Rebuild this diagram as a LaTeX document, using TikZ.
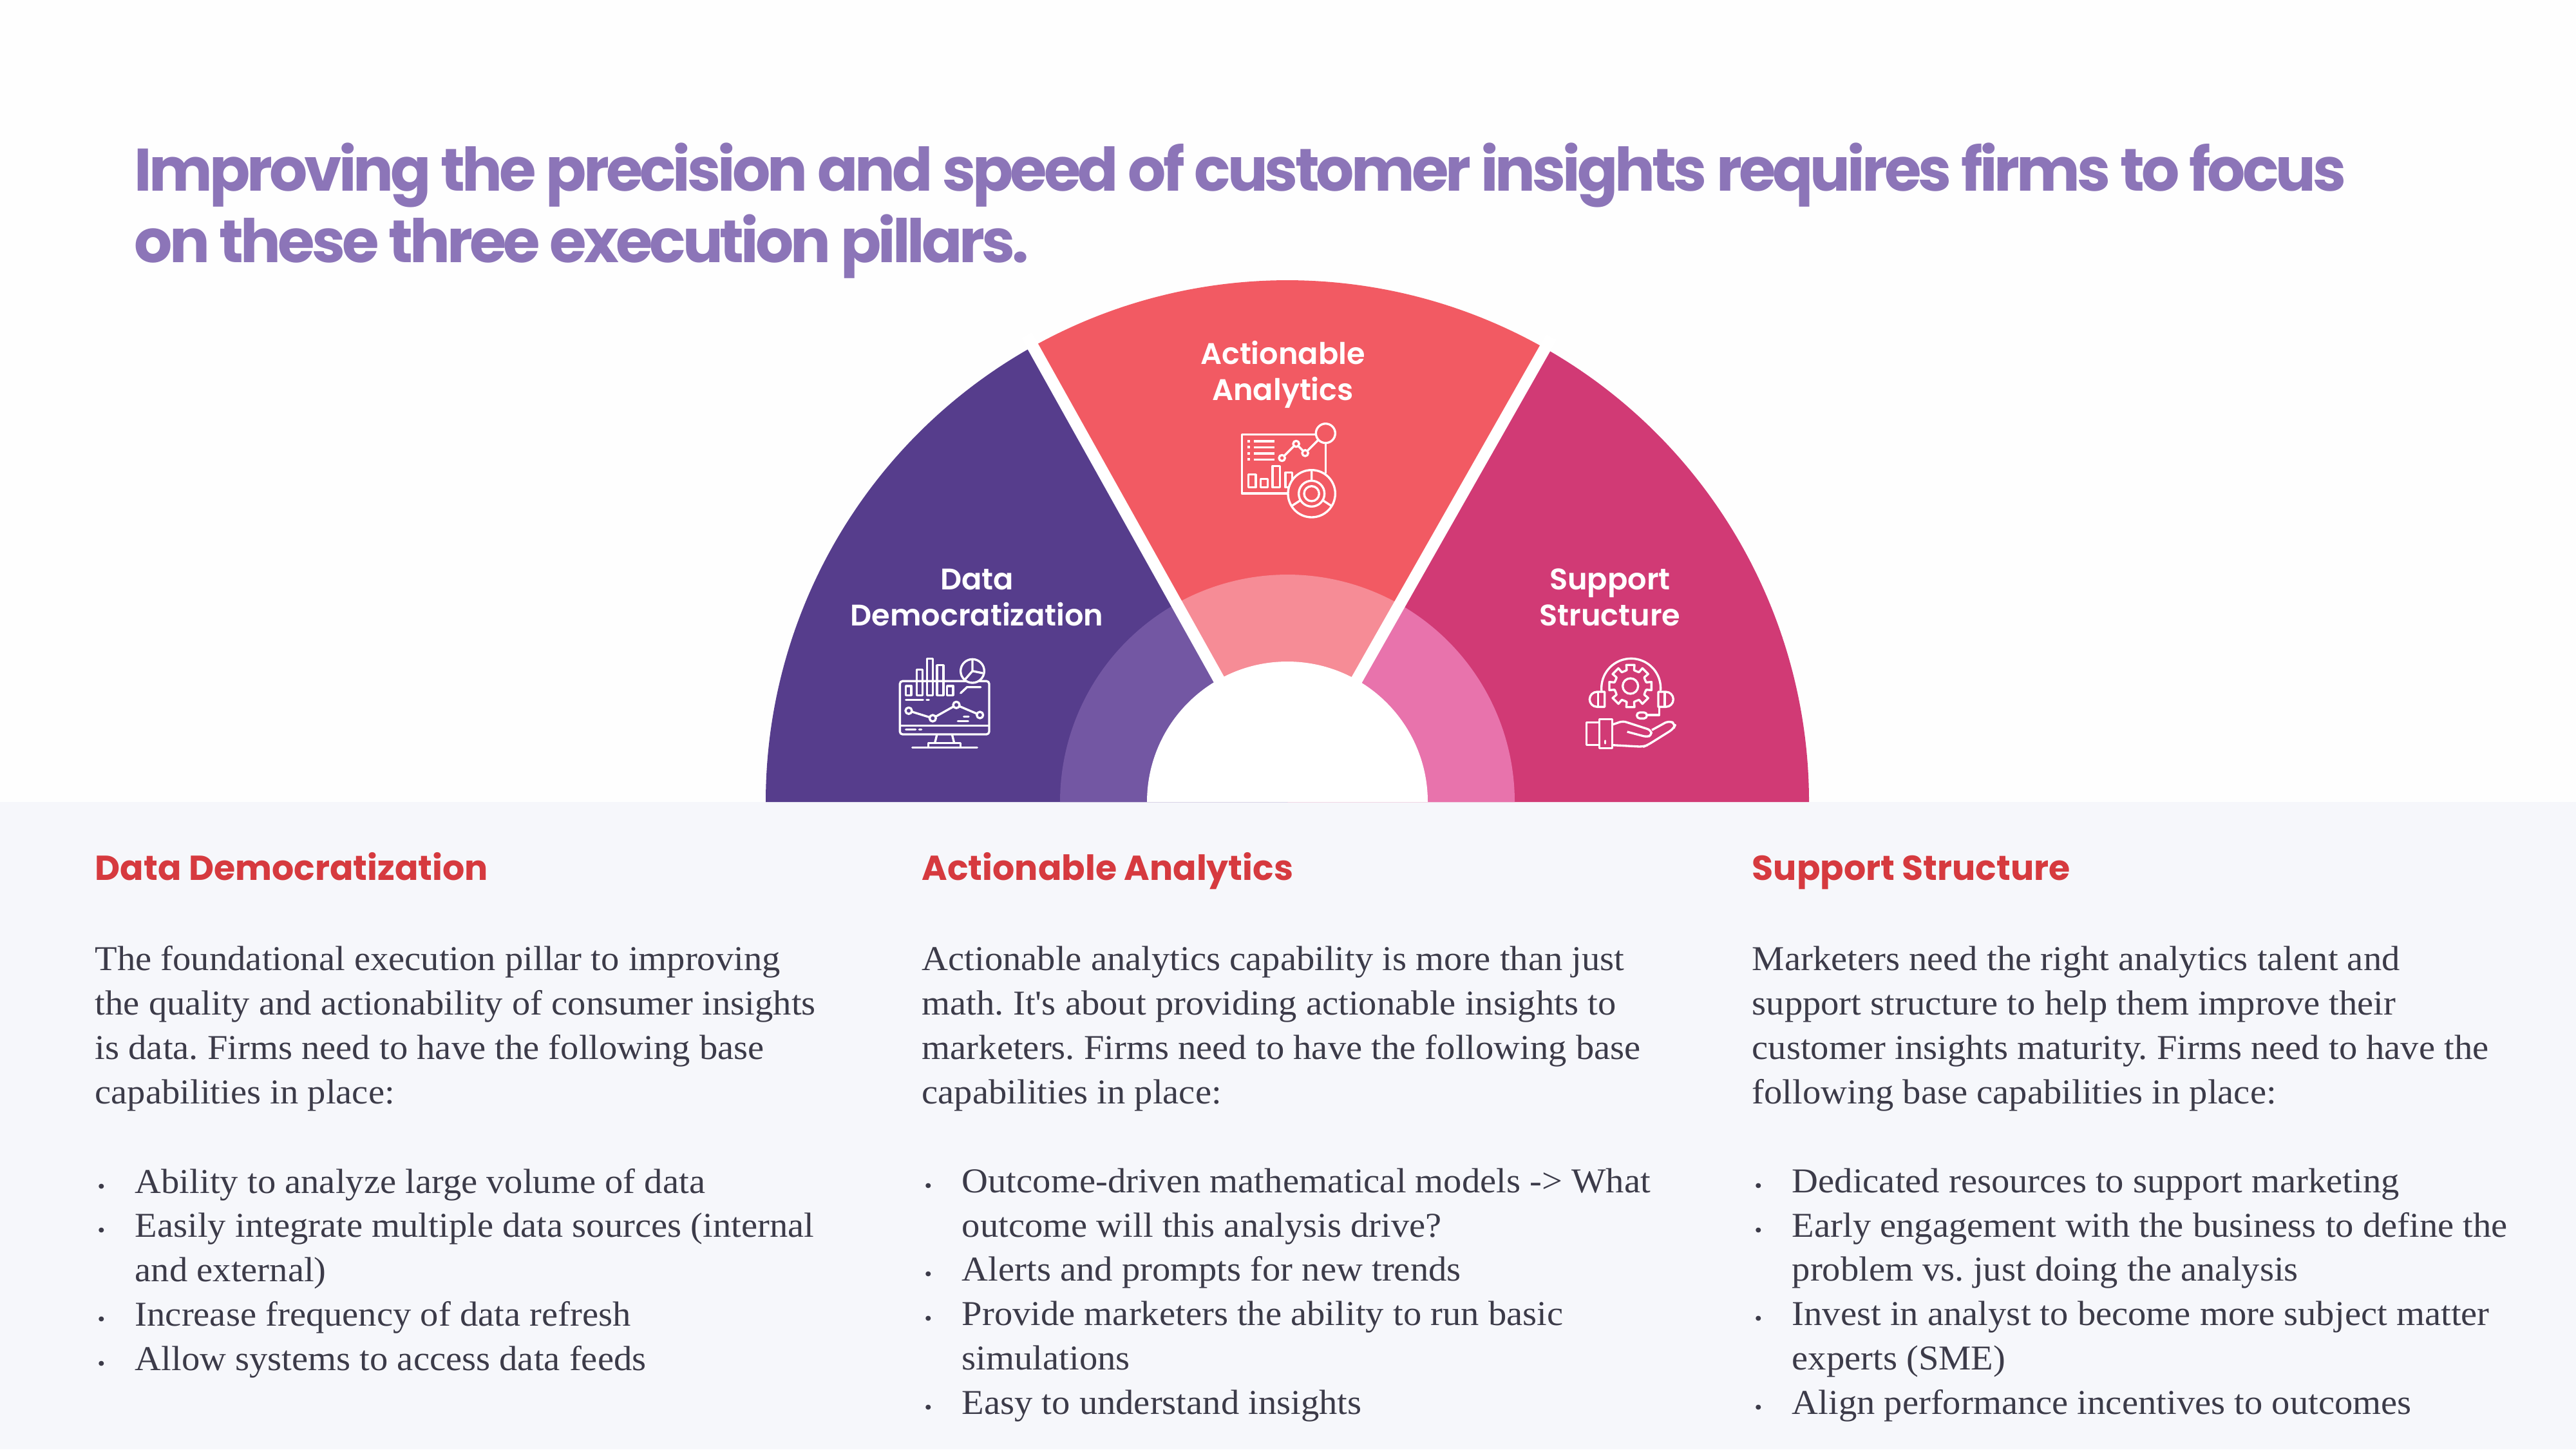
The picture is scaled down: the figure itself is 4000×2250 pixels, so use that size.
\documentclass[tikz,border=0pt]{standalone}
\usepackage{fontspec}
\usetikzlibrary{calc,positioning}
\setmainfont{Liberation Serif}[Ligatures=TeXOff,FakeStretch=1.045]
\newfontfamily\popbold{Poppins}[UprightFont=*-Bold,LetterSpace=-5.3]
\newfontfamily\pophead{Poppins}[UprightFont=*-Bold]
\newfontfamily\popsemi{Poppins}[UprightFont=*-SemiBold]
\definecolor{pillarPurple}{HTML}{563D8C}
\definecolor{pillarRed}{HTML}{F25A63}
\definecolor{pillarPink}{HTML}{D13A75}
\definecolor{ringPurple}{HTML}{7357A3}
\definecolor{ringRed}{HTML}{F68C96}
\definecolor{ringPink}{HTML}{E873AC}
\definecolor{panelGrey}{HTML}{F6F7FB}
\definecolor{titlePurple}{HTML}{8C75B8}
\definecolor{headRed}{HTML}{D63A3F}
\definecolor{bodyGrey}{HTML}{3C3B49}
\newcommand{\pt}[1]{\makebox[.62cm][l]{\hspace{.04cm}{\fontsize{9}{9}\selectfont\textbullet}}#1}
\newcommand{\pc}[1]{\makebox[.62cm][l]{}#1}

\begin{document}
\begin{tikzpicture}[x=0.01cm,y=-0.01cm,
titletext/.style={anchor=base west,align=left,inner sep=0pt,text=titlePurple,font=\popbold\fontsize{26.5}{31.5}\selectfont},
pillarlabel/.style={anchor=base,align=center,inner sep=0pt,text=white,font=\popsemi\fontsize{13.15}{15.65}\selectfont},
headtext/.style={anchor=base west,inner sep=0pt,text=headRed,font=\pophead\fontsize{15.3}{18}\selectfont},
bodytext/.style={anchor=base west,align=left,inner sep=0pt,text=bodyGrey,font=\fontsize{15.4}{19.55}\selectfont\frenchspacing},
iconline/.style={draw=white,line width=0.95pt,line join=round}]

        \useasboundingbox (0,0) rectangle (4000,2250);
        \fill[white!99.5!black] (0,0) rectangle (4000,2250);
        \fill[panelGrey] (0,1245) rectangle (4000,2250);

        % the fan
        \begin{scope}[shift={(1999,1245)},yscale=-1]
            \fill[pillarPurple] (0,0) -- (180:810) arc[start angle=180,end angle=119.2,radius=810] -- cycle;
            \fill[pillarRed] (0,0) -- (119.2:810) arc[start angle=119.2,end angle=60.4,radius=810] -- cycle;
            \fill[pillarPink] (0,0) -- (60.4:810) arc[start angle=60.4,end angle=0,radius=810] -- cycle;
            \fill[ringPurple] (0,0) -- (180:353) arc[start angle=180,end angle=119.2,radius=353] -- cycle;
            \fill[ringRed] (0,0) -- (119.2:353) arc[start angle=119.2,end angle=60.4,radius=353] -- cycle;
            \fill[ringPink] (0,0) -- (60.4:353) arc[start angle=60.4,end angle=0,radius=353] -- cycle;
            \fill[white] (180:218) arc[start angle=180,end angle=0,radius=218] -- cycle;
            \draw[white,line width=5.2pt] (119.2:205) -- (119.2:830);
            \draw[white,line width=5.2pt] (60.4:205) -- (60.4:830);
        \end{scope}

        \node [titletext] (title) at (208,407) {Improving the precision and speed of customer insights requires firms to focus\\on these three execution pillars.};

        \node [pillarlabel] (labelData) at (1517,971) {Data\\Democratization};
        \node [pillarlabel] (labelAction) at (1992,621) {Actionable\\Analytics};
        \node [pillarlabel] (labelSupport) at (2500,971) {Support\\Structure};

        % monitor icon
        \begin{scope}[shift={(1360,1000)},scale=0.3333]
            \draw[iconline,rounded corners=1.2pt] (112,172) rectangle (528,420);
            \draw[iconline] (112,380) -- (528,380);
            \draw[iconline] (285,420) -- (275,460) (355,420) -- (365,460);
            \draw[iconline] (245,480) -- (245,460) -- (395,460) -- (395,480);
            \draw[iconline,line cap=round] (170,482) -- (472,482);
            \draw[iconline] (140,238) rectangle (165,195) (190,238) rectangle (218,118) (238,238) rectangle (265,68) (285,238) rectangle (315,98) (332,238) rectangle (360,195);
            \draw[iconline,fill=pillarPurple] (450,125) circle[radius=55];
            \draw[iconline] (450,70) -- (450,125) -- (498,135) (450,125) -- (415,165);
            \draw[iconline,line cap=round] (395,228) -- (425,200) -- (488,200);
            \draw[iconline,line cap=round] (140,260) -- (220,260) (237,260) -- (247,260) (382,358) -- (430,358) (410,338) -- (432,338) (140,398) -- (185,398) (202,398) -- (212,398);
            \draw[iconline] (153,310) -- (265,345) -- (375,283) -- (485,330);
            \foreach \p in {(153,310),(265,345),(375,283),(485,330)}
                \draw[iconline,fill=pillarPurple] \p circle[radius=15];
        \end{scope}

        % dashboard icon
        \begin{scope}[shift={(1900,640)},scale=0.3333]
            \draw[iconline] (430,103) -- (85,103) -- (85,378) -- (300,378);
            \draw[iconline] (475,145) -- (475,285);
            \foreach \y in {135,163,192,220} {
                \fill[white] (112,\y-6) rectangle (124,\y+6);
                \draw[iconline] (140,\y) -- (238,\y);
            }
            \draw[iconline] (272,213) -- (338,147) -- (380,190) -- (440,130);
            \foreach \p in {(272,213),(338,147),(380,190)}
                \draw[iconline,fill=pillarRed] \p circle[radius=14];
            \draw[iconline] (475,98) circle[radius=45];
            \draw[iconline] (115,350) rectangle (150,290) (172,350) rectangle (205,310) (228,350) rectangle (262,250) (288,350) rectangle (320,280);
            \draw[iconline,fill=pillarRed] (410,379) circle[radius=110];
            \draw[iconline] (410,379) circle[radius=60] (410,379) circle[radius=35];
            \draw[iconline] (410,269) -- (410,319) (358,410) -- (318,436) (462,410) -- (502,436);
        \end{scope}

        % support icon
        \begin{scope}[shift={(2430,1000)},scale=0.3333]
            \draw[iconline] (170.5,217) arc[start angle=175,end angle=365,radius=138];
            \draw[iconline] (185,222) -- (150,222) arc[start angle=270,end angle=90,radius=35] -- (185,292) -- cycle;
            \draw[iconline] (155,222) -- (155,292);
            \draw[iconline] (435,222) -- (470,222) arc[start angle=270,end angle=450,radius=35] -- (435,292) -- cycle;
            \draw[iconline] (465,222) -- (465,292);
            \draw[iconline] (440,292) -- (440,330) -- (382,330);
            \draw[iconline,rounded corners=1.3pt] (335,318) rectangle (382,346);
            \begin{scope}[shift={(305,195)}]
                \draw[iconline] (0,0) circle[radius=36];
                \foreach \a in {0,45,...,315}
                    \draw[iconline] (\a-22.5:74) -- (\a-13:76) -- (\a-11:100) -- (\a+11:100) -- (\a+13:76) -- (\a+22.5:74);
            \end{scope}
            \draw[iconline] (160,365) -- (100,365) -- (100,470) -- (160,470);
            \draw[iconline] (160,350) rectangle (220,485);
            \draw[iconline,line cap=round] (188,450) -- (188,462);
            \draw[iconline,rounded corners=1.5pt] (220,375) -- (270,358) -- (400,400) -- (405,425) -- (380,432) -- (290,408);
            \draw[iconline,rounded corners=2pt] (405,400) -- (485,356) -- (516,372) -- (505,395) -- (385,470) -- (365,478) -- (220,470);
        \end{scope}

        % first column
        \node [headtext] (headData) at (147,1366) {Data Democratization};
        \node [bodytext] (bodyData) at (147,1713) {The foundational execution pillar to improving\\the quality and actionability of consumer insights\\is data. Firms need to have the following base\\capabilities in place:};
        \node [bodytext] (listData) at (147,2127) {\pt{Ability to analyze large volume of data}\\\pt{Easily integrate multiple data sources (internal}\\\pc{and external)}\\\pt{Increase frequency of data refresh}\\\pt{Allow systems to access data feeds}};

        % second column
        \node [headtext] (headAction) at (1431,1366) {Actionable Analytics};
        \node [bodytext] (bodyAction) at (1431,1713) {Actionable analytics capability is more than just\\math. It's about providing actionable insights to\\marketers. Firms need to have the following base\\capabilities in place:};
        \node [bodytext] (listAction) at (1431,2195) {\pt{Outcome-driven mathematical models -> What}\\\pc{outcome will this analysis drive?}\\\pt{Alerts and prompts for new trends}\\\pt{Provide marketers the ability to run basic}\\\pc{simulations}\\\pt{Easy to understand insights}};

        % third column
        \node [headtext] (headSupport) at (2720,1366) {Support Structure};
        \node [bodytext] (bodySupport) at (2720,1713) {Marketers need the right analytics talent and\\support structure to help them improve their\\customer insights maturity. Firms need to have the\\following base capabilities in place:};
        \node [bodytext] (listSupport) at (2720,2195) {\pt{Dedicated resources to support marketing}\\\pt{Early engagement with the business to define the}\\\pc{problem vs. just doing the analysis}\\\pt{Invest in analyst to become more subject matter}\\\pc{experts (SME)}\\\pt{Align performance incentives to outcomes}};
    \end{tikzpicture}
\end{document}
